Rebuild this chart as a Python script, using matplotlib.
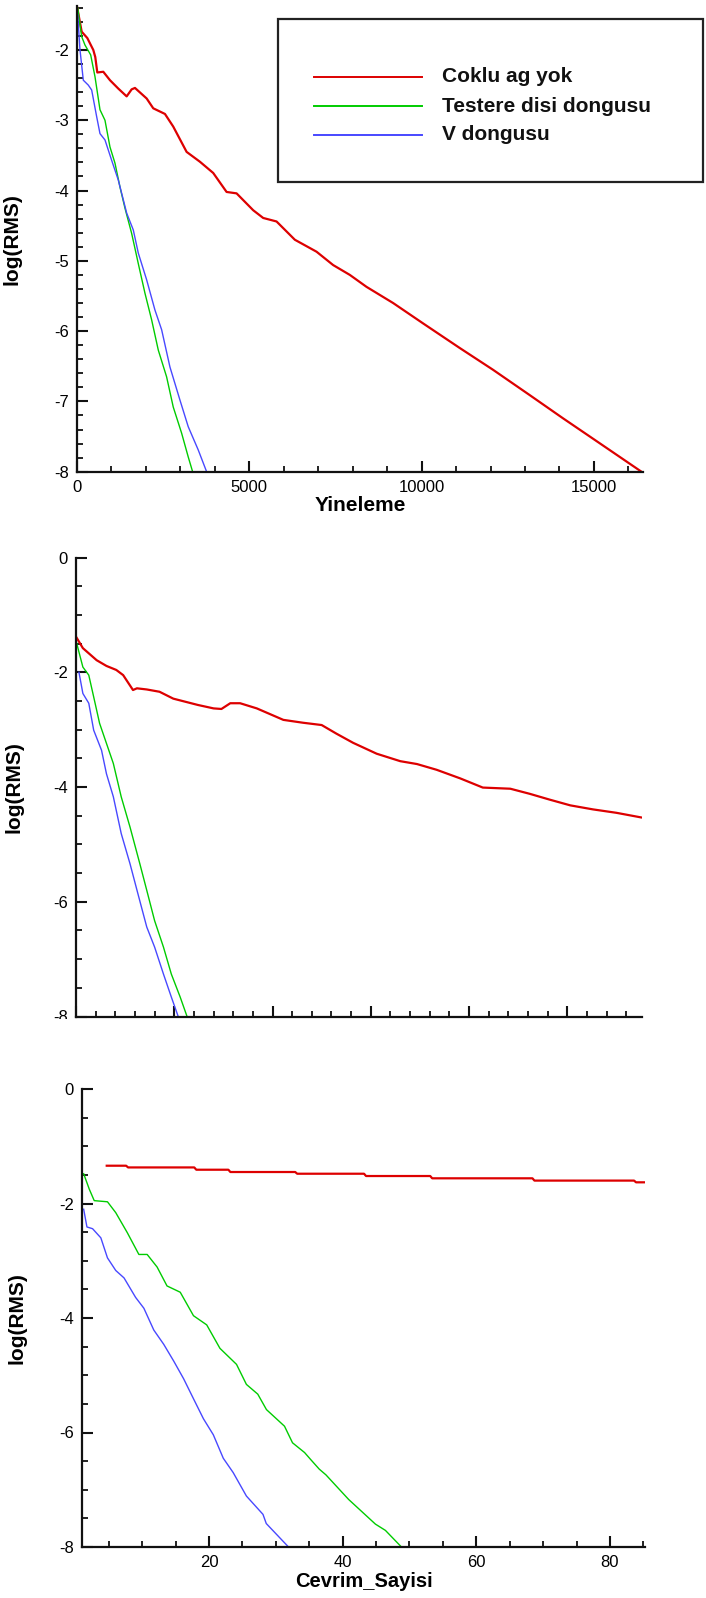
import matplotlib
matplotlib.use("Agg")
import matplotlib.pyplot as plt
from matplotlib.ticker import MultipleLocator, FixedLocator
from matplotlib.patches import Rectangle
from matplotlib.lines import Line2D

plt.rcParams['font.family'] = ['Liberation Sans', 'DejaVu Sans']
plt.rcParams['axes.unicode_minus'] = False

# ---- series labels and colours ----
series_names = ["Coklu ag yok", "Testere disi dongusu", "V dongusu"]
series_colors = ["#dd0000", "#00cc00", "#4848ff"]

# ---- panel 1: residual vs iteration ----
iter_red = [0, 136, 299, 473, 530, 589, 763, 957, 1200, 1441, 1586, 1682, 2021, 2213, 2552,
            2793, 3181, 3567, 3953, 4341, 4631, 5113, 5403, 5791, 6322, 6951, 7433, 7917,
            8401, 9173, 10043, 11107, 12073, 13137, 14103, 14973, 16380]
rms_red = [-1.38, -1.74, -1.83, -2.0, -2.1, -2.32, -2.31, -2.43, -2.55, -2.66, -2.56, -2.54,
           -2.69, -2.83, -2.91, -3.09, -3.45, -3.59, -3.75, -4.02, -4.04, -4.28, -4.39, -4.44,
           -4.70, -4.87, -5.06, -5.20, -5.37, -5.60, -5.89, -6.24, -6.55, -6.91, -7.24, -7.53,
           -8.0]
iter_green = [20, 136, 232, 397, 522, 667, 812, 957, 1102, 1247, 1392, 1586, 1779, 1972, 2166,
              2359, 2600, 2793, 3035, 3228, 3355]
rms_green = [-1.40, -1.81, -1.93, -2.07, -2.38, -2.85, -3.0, -3.38, -3.61, -3.95, -4.25, -4.61,
             -5.04, -5.46, -5.84, -6.27, -6.65, -7.08, -7.45, -7.79, -8.0]
iter_blue = [20, 87, 183, 328, 426, 571, 667, 812, 1006, 1198, 1441, 1633, 1779, 2021, 2262,
             2456, 2697, 2987, 3228, 3518, 3761]
rms_blue = [-1.50, -2.0, -2.43, -2.50, -2.57, -2.95, -3.19, -3.28, -3.57, -3.85, -4.32, -4.56,
            -4.89, -5.27, -5.70, -5.98, -6.51, -6.98, -7.36, -7.69, -8.0]

# ---- panel 2: residual vs work units ----
work_red = [0.0, 0.07, 0.21, 0.31, 0.41, 0.48, 0.58, 0.62, 0.72, 0.85, 0.99, 1.24, 1.40, 1.48,
            1.57, 1.67, 1.84, 2.11, 2.31, 2.50, 2.65, 2.82, 3.06, 3.30, 3.47, 3.67, 3.91, 4.14,
            4.42, 4.62, 4.82, 5.03, 5.26, 5.50, 5.75]
rms2_red = [-1.38, -1.58, -1.79, -1.89, -1.96, -2.05, -2.31, -2.28, -2.30, -2.34, -2.46, -2.57,
            -2.63, -2.64, -2.54, -2.54, -2.63, -2.83, -2.88, -2.92, -3.07, -3.23, -3.42, -3.55,
            -3.60, -3.70, -3.85, -4.01, -4.03, -4.12, -4.22, -4.32, -4.39, -4.45, -4.53]
work_green = [0.0, 0.07, 0.13, 0.18, 0.24, 0.30, 0.38, 0.46, 0.55, 0.65, 0.72, 0.80, 0.89,
              0.97, 1.06, 1.13]
rms2_green = [-1.45, -1.91, -2.05, -2.43, -2.89, -3.19, -3.59, -4.17, -4.70, -5.34, -5.80,
              -6.33, -6.79, -7.26, -7.66, -8.0]
work_blue = [0.03, 0.07, 0.13, 0.18, 0.26, 0.31, 0.38, 0.46, 0.55, 0.63, 0.72, 0.80, 0.89,
             0.97, 1.04]
rms2_blue = [-2.0, -2.37, -2.54, -3.01, -3.36, -3.77, -4.17, -4.81, -5.34, -5.86, -6.44,
             -6.79, -7.26, -7.66, -8.0]

# ---- panel 3: residual vs cycle count ----
cycle_red = [4.7, 7.6, 7.9, 17.8, 18.1, 22.9, 23.2, 32.9, 33.2, 43.2, 43.5, 53.1, 53.4, 68.4,
             68.7, 83.6, 83.9, 85.3]
rms3_red = [-1.34, -1.34, -1.37, -1.37, -1.41, -1.41, -1.45, -1.45, -1.48, -1.48, -1.52, -1.52,
            -1.56, -1.56, -1.60, -1.60, -1.63, -1.63]
cycle_green = [1.25, 2.09, 2.83, 4.81, 6.05, 7.78, 9.51, 10.75, 12.24, 13.72, 15.70, 17.68,
               19.66, 21.64, 24.12, 25.60, 27.3, 28.6, 31.3, 32.5, 34.3, 35.2, 36.5, 37.5,
               40.9, 44.9, 46.4, 48.8]
rms3_green = [-1.48, -1.75, -1.95, -1.97, -2.16, -2.51, -2.89, -2.89, -3.11, -3.44, -3.55,
              -3.96, -4.12, -4.53, -4.81, -5.16, -5.33, -5.60, -5.89, -6.18, -6.35, -6.47,
              -6.64, -6.74, -7.17, -7.60, -7.71, -8.0]
cycle_blue = [1.25, 1.74, 2.58, 3.82, 4.81, 6.05, 7.29, 9.02, 10.26, 11.74, 13.23, 14.71,
              16.20, 17.68, 19.17, 20.65, 22.14, 23.62, 25.60, 28.08, 28.57, 31.9]
rms3_blue = [-2.10, -2.41, -2.44, -2.60, -2.95, -3.17, -3.30, -3.64, -3.83, -4.21, -4.46,
             -4.75, -5.06, -5.41, -5.76, -6.04, -6.45, -6.70, -7.11, -7.43, -7.59, -8.0]

ylabel_text = "log(RMS)"
xlabel_1 = "Yineleme"
xlabel_3 = "Cevrim_Sayisi"

W, H = 706, 1598
fig = plt.figure(figsize=(W / 100, H / 100), dpi=100)
fig.patch.set_facecolor("white")


def px_axes(left, right, top, bottom):
    return fig.add_axes([left / W, 1 - bottom / H, (right - left) / W, (bottom - top) / H])


def style(ax):
    for side in ("top", "right"):
        ax.spines[side].set_visible(False)
    for side in ("left", "bottom"):
        ax.spines[side].set_linewidth(1.6)
        ax.spines[side].set_color("#111111")
    ax.tick_params(which="major", direction="in", length=8, width=1.5, labelsize=12,
                   color="#111111", pad=6)
    ax.tick_params(which="minor", direction="in", length=4.3, width=1.3, color="#111111")
    ax.set_facecolor("white")


lw_red, lw_other = 1.6, 1.0

# Panel 1
ax1 = px_axes(77, 643, 5.7, 471.7)
style(ax1)
ax1.plot(iter_red, rms_red, color=series_colors[0], lw=lw_red)
ax1.plot(iter_green, rms_green, color=series_colors[1], lw=lw_other)
ax1.plot(iter_blue, rms_blue, color=series_colors[2], lw=lw_other)
ax1.set_xlim(0, 16425)
ax1.set_ylim(-8, -1.37)
ax1.xaxis.set_major_locator(MultipleLocator(5000))
ax1.xaxis.set_minor_locator(MultipleLocator(1000))
ax1.yaxis.set_major_locator(MultipleLocator(1))
ax1.yaxis.set_minor_locator(MultipleLocator(0.2))
ax1.set_xlabel(xlabel_1, fontsize=15, fontweight="bold", labelpad=1)
ax1.set_ylabel(ylabel_text, fontsize=15, fontweight="bold")
ax1.yaxis.set_label_coords((22 - 77) / 566, 0.5)

# Panel 2
ax2 = px_axes(76, 642, 557.5, 1016.5)
style(ax2)
ax2.plot(work_red, rms2_red, color=series_colors[0], lw=lw_red)
ax2.plot(work_green, rms2_green, color=series_colors[1], lw=lw_other)
ax2.plot(work_blue, rms2_blue, color=series_colors[2], lw=lw_other)
ax2.set_xlim(0, 5.76)
ax2.set_ylim(-8, 0)
ax2.xaxis.set_major_locator(MultipleLocator(1))
ax2.xaxis.set_minor_locator(MultipleLocator(0.2))
ax2.yaxis.set_major_locator(MultipleLocator(2))
ax2.yaxis.set_minor_locator(MultipleLocator(0.5))
ax2.tick_params(axis="x", labelbottom=False)
ax2.set_ylabel(ylabel_text, fontsize=15, fontweight="bold")
ax2.yaxis.set_label_coords((24 - 76) / 566, 0.5)

# Panel 3
ax3 = px_axes(82, 645.4, 1089, 1547)
style(ax3)
ax3.plot(cycle_red, rms3_red, color=series_colors[0], lw=lw_red)
ax3.plot(cycle_green, rms3_green, color=series_colors[1], lw=lw_other)
ax3.plot(cycle_blue, rms3_blue, color=series_colors[2], lw=lw_other)
ax3.set_xlim(1, 85.3)
ax3.set_ylim(-8, 0)
ax3.xaxis.set_major_locator(FixedLocator([20, 40, 60, 80]))
ax3.xaxis.set_minor_locator(MultipleLocator(5))
ax3.yaxis.set_major_locator(MultipleLocator(2))
ax3.yaxis.set_minor_locator(MultipleLocator(0.5))
ax3.set_xlabel(xlabel_3, fontsize=14.5, fontweight="bold", labelpad=1)
ax3.set_ylabel(ylabel_text, fontsize=15, fontweight="bold")
ax3.yaxis.set_label_coords((27 - 82) / 563, 0.5)

# Band between the middle and bottom panels trims the lowest tick label of panel 2
fig.add_artist(Rectangle((0, 1 - 1068 / H), 0.2, (1068 - 1019) / H, transform=fig.transFigure,
                         facecolor="white", edgecolor="none", zorder=10))

# Legend box drawn in figure pixels
box_l, box_r, box_t, box_b = 278, 703, 19, 182
fig.add_artist(Rectangle((box_l / W, 1 - box_b / H), (box_r - box_l) / W, (box_b - box_t) / H,
                         transform=fig.transFigure, facecolor="white", edgecolor="#222222",
                         linewidth=1.6, zorder=11))
for i, (name, col) in enumerate(zip(series_names, series_colors)):
    yy = 1 - (77 + 29 * i) / H
    fig.add_artist(Line2D([314 / W, 422 / W], [yy, yy], transform=fig.transFigure,
                          color=col, lw=1.4, zorder=12))
    fig.text(442 / W, yy, name, fontsize=15, fontweight="bold", va="center", ha="left",
             zorder=12, color="#111111")

fig.savefig("out.png", dpi=100, facecolor="white")
